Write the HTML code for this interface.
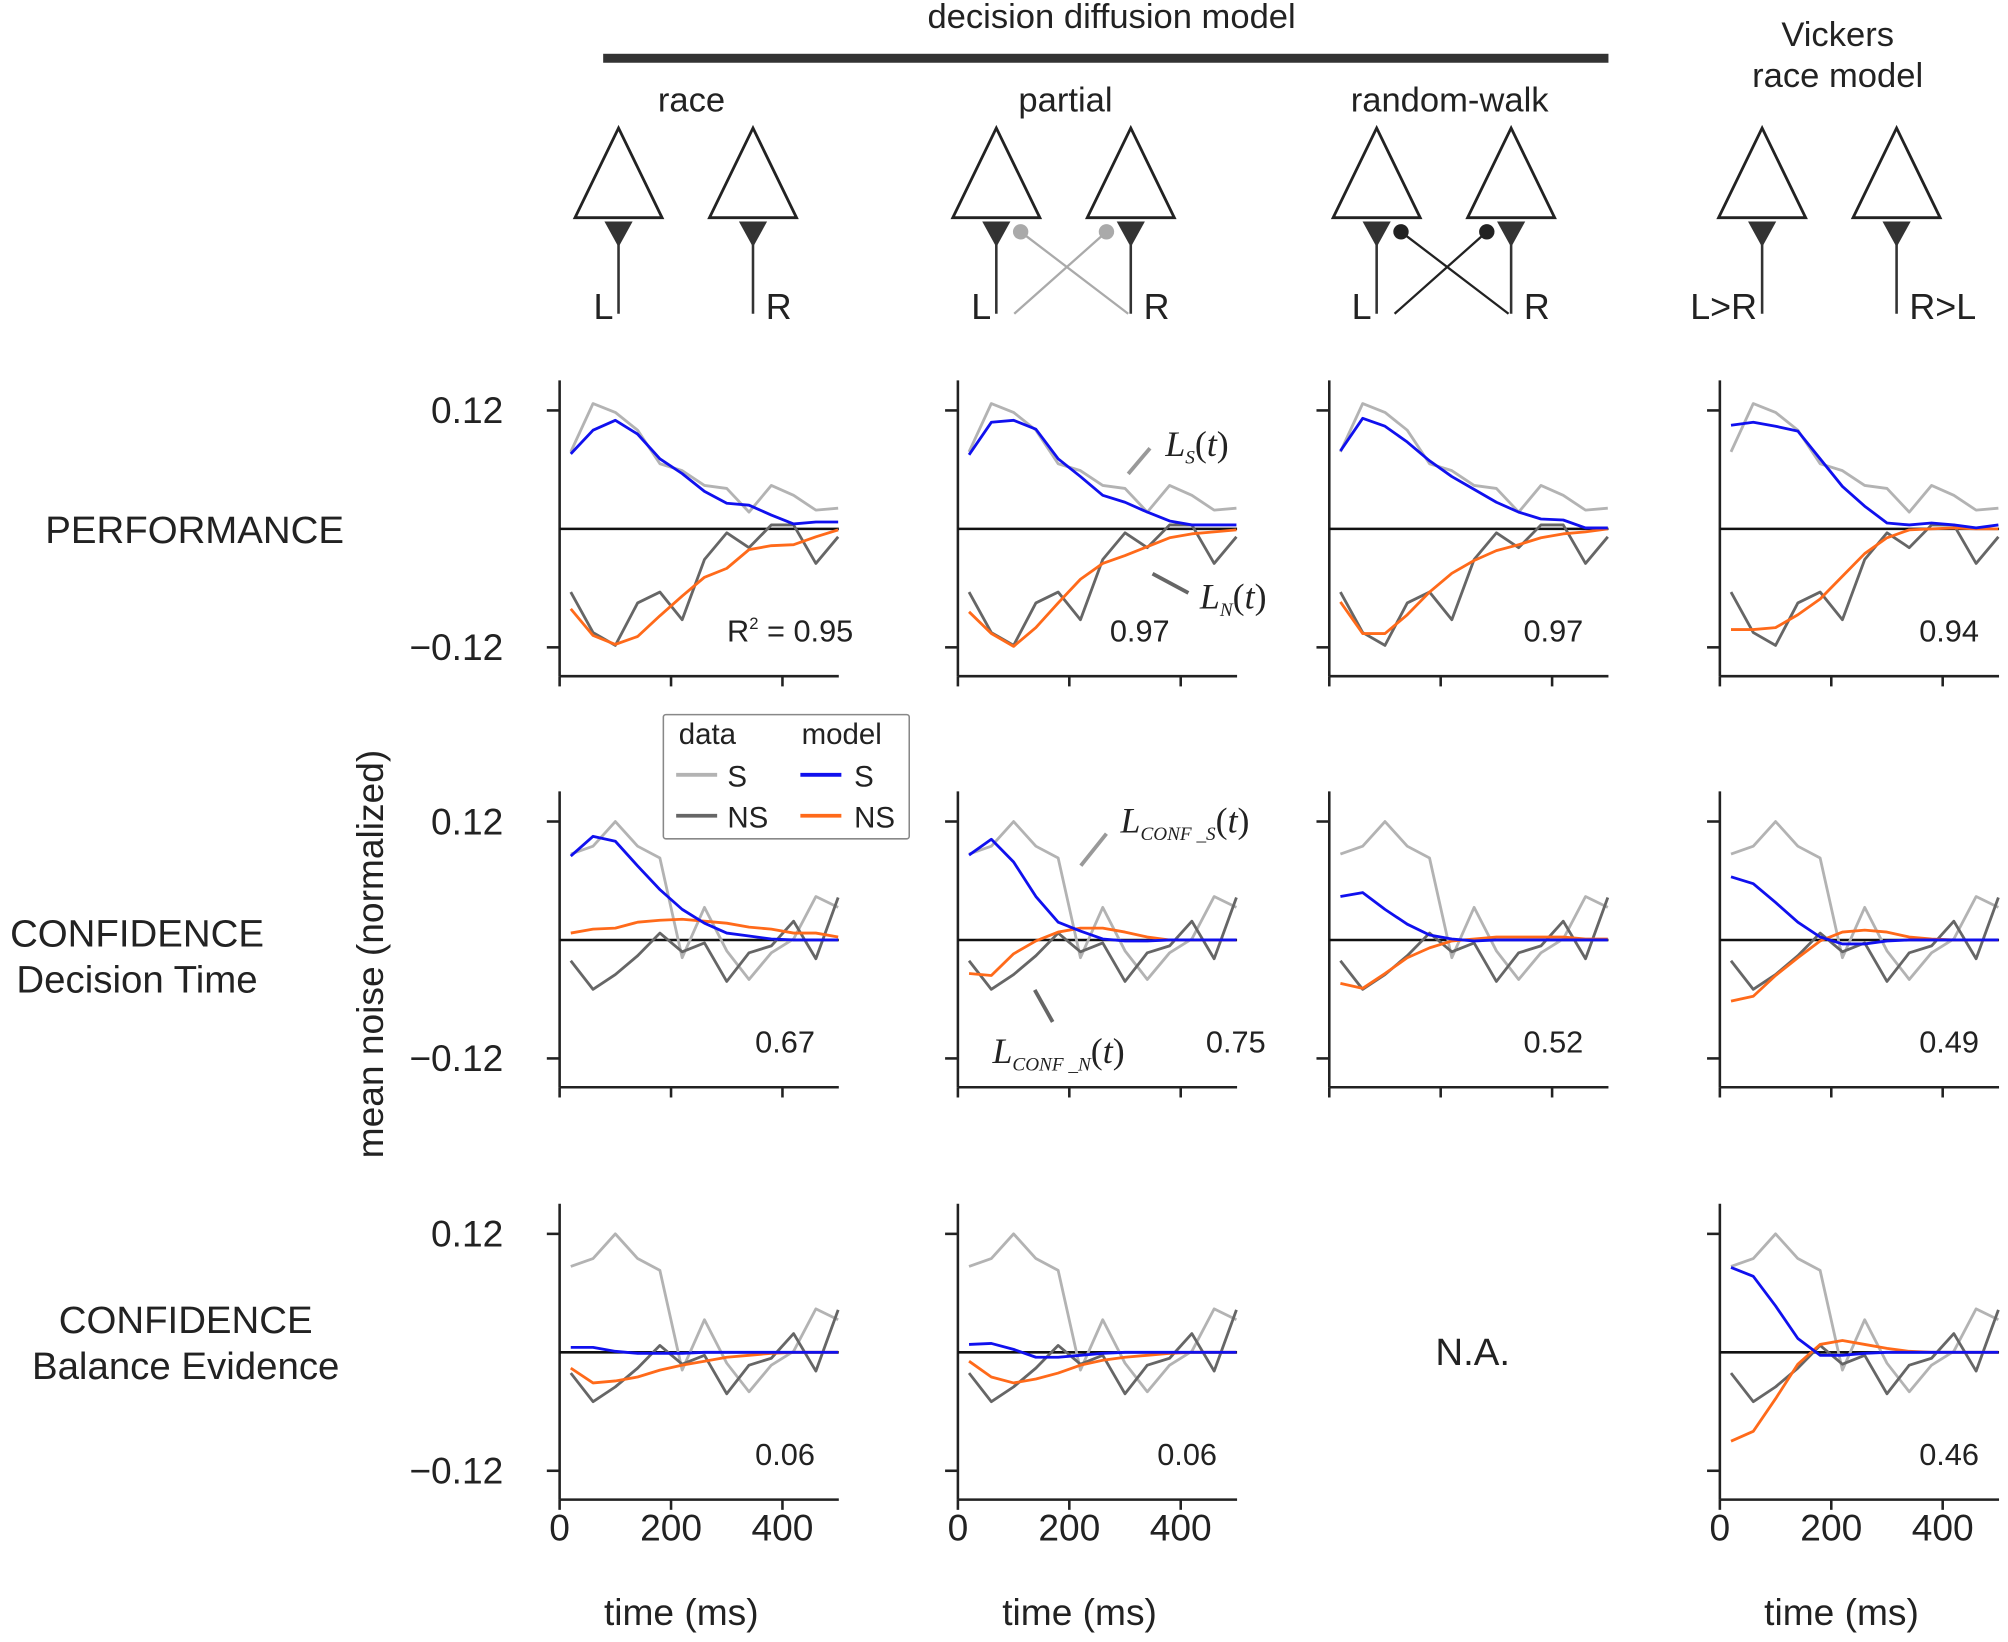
<!DOCTYPE html>
<html><head><meta charset="utf-8"><style>
html,body{margin:0;padding:0;background:#fff}
svg{display:block}
text{font-family:"Liberation Sans",sans-serif;fill:#222}
</style></head><body>
<svg id="fig" width="2008" height="1642" viewBox="0 0 1568 1282.2" preserveAspectRatio="none" xmlns="http://www.w3.org/2000/svg">
<g>
<text x="868" y="22" font-size="27" text-anchor="middle" fill="#333">decision diffusion model</text>
<rect x="471" y="42" width="785" height="7" fill="#333"/>
<text x="540" y="87" font-size="27" text-anchor="middle" fill="#333">race</text>
<text x="832" y="87" font-size="27" text-anchor="middle" fill="#333">partial</text>
<text x="1132" y="87" font-size="27" text-anchor="middle" fill="#333">random-walk</text>
<text x="1435" y="36" font-size="27" text-anchor="middle" fill="#333">Vickers</text>
<text x="1435" y="68" font-size="27" text-anchor="middle" fill="#333">race model</text>
</g>
<g id="diagrams"></g>
<g>
<text x="152" y="424" font-size="30" text-anchor="middle" fill="#333">PERFORMANCE</text>
<text x="107" y="739" font-size="30" text-anchor="middle" fill="#333">CONFIDENCE</text>
<text x="107" y="775" font-size="30" text-anchor="middle" fill="#333">Decision Time</text>
<text x="145" y="1041" font-size="30" text-anchor="middle" fill="#333">CONFIDENCE</text>
<text x="145" y="1077" font-size="30" text-anchor="middle" fill="#333">Balance Evidence</text>
<text transform="translate(299,745) rotate(-90)" font-size="29" text-anchor="middle">mean noise (normalized)</text>
<text x="1150" y="1066" font-size="30" text-anchor="middle">N.A.</text>
</g>
<g id="panels"></g>
<g>
<rect x="518" y="558" width="192" height="97" fill="#fff" stroke="#888" stroke-width="1.2" rx="2"/>
<text x="530" y="581" font-size="23">data</text>
<text x="626" y="581" font-size="23">model</text>
<line x1="528" y1="605" x2="560" y2="605" stroke="#b3b3b3" stroke-width="3"/>
<text x="568" y="614" font-size="23">S</text>
<line x1="528" y1="637" x2="560" y2="637" stroke="#666" stroke-width="3"/>
<text x="568" y="646" font-size="23">NS</text>
<line x1="625" y1="605" x2="657" y2="605" stroke="#1010ee" stroke-width="3"/>
<text x="667" y="614" font-size="23">S</text>
<line x1="625" y1="637" x2="657" y2="637" stroke="#ff6a1a" stroke-width="3"/>
<text x="667" y="646" font-size="23">NS</text>
</g>
<g>
<line x1="881" y1="370" x2="898" y2="350" stroke="#999" stroke-width="3"/>
<text x="910" y="356" font-size="28" font-family="Liberation Serif"><tspan font-style="italic" font-family="Liberation Serif">L</tspan><tspan font-size="15" dy="6" font-style="italic" font-family="Liberation Serif">S</tspan><tspan dy="-6" font-family="Liberation Serif">(</tspan><tspan font-style="italic" font-family="Liberation Serif">t</tspan><tspan font-family="Liberation Serif">)</tspan></text>
<line x1="900" y1="448" x2="928" y2="463" stroke="#666" stroke-width="3"/>
<text x="937" y="475" font-size="28" font-family="Liberation Serif"><tspan font-style="italic" font-family="Liberation Serif">L</tspan><tspan font-size="15" dy="6" font-style="italic" font-family="Liberation Serif">N</tspan><tspan dy="-6" font-family="Liberation Serif">(</tspan><tspan font-style="italic" font-family="Liberation Serif">t</tspan><tspan font-family="Liberation Serif">)</tspan></text>
<line x1="844" y1="676" x2="864" y2="651" stroke="#999" stroke-width="3"/>
<text x="875" y="650" font-size="28" font-family="Liberation Serif"><tspan font-style="italic" font-family="Liberation Serif">L</tspan><tspan font-size="15" dy="6" font-style="italic" font-family="Liberation Serif">CONF _S</tspan><tspan dy="-6" font-family="Liberation Serif">(</tspan><tspan font-style="italic" font-family="Liberation Serif">t</tspan><tspan font-family="Liberation Serif">)</tspan></text>
<line x1="808" y1="773" x2="822" y2="798" stroke="#666" stroke-width="3"/>
<text x="775" y="830" font-size="28" font-family="Liberation Serif"><tspan font-style="italic" font-family="Liberation Serif">L</tspan><tspan font-size="15" dy="6" font-style="italic" font-family="Liberation Serif">CONF _N</tspan><tspan dy="-6" font-family="Liberation Serif">(</tspan><tspan font-style="italic" font-family="Liberation Serif">t</tspan><tspan font-family="Liberation Serif">)</tspan></text>
</g>
</svg>
<script>
const times=[20,60,100,140,180,220,260,300,340,380,420,460,500];
const xTicks=[0,200,400];
const yTicks=[0.12,-0.12];
const perfDataS=[0.078,0.127,0.118,0.100,0.066,0.059,0.044,0.041,0.017,0.044,0.034,0.019,0.021];
const perfDataNS=[-0.064,-0.105,-0.118,-0.075,-0.064,-0.092,-0.031,-0.004,-0.019,0.004,0.004,-0.035,-0.008];
const confDataS=[0.087,0.095,0.120,0.095,0.083,-0.018,0.033,-0.011,-0.040,-0.013,0.001,0.044,0.033];
const confDataNS=[-0.021,-0.050,-0.035,-0.016,0.007,-0.012,-0.003,-0.042,-0.013,-0.006,0.019,-0.019,0.043];
const perfRaceS=[0.076,0.100,0.110,0.096,0.071,0.056,0.038,0.026,0.024,0.014,0.005,0.007,0.007];
const perfRaceNS=[-0.081,-0.108,-0.117,-0.109,-0.088,-0.068,-0.049,-0.040,-0.021,-0.017,-0.016,-0.008,-0.001];
const perfPartialS=[0.075,0.108,0.110,0.101,0.071,0.053,0.034,0.027,0.017,0.008,0.004,0.004,0.004];
const perfPartialNS=[-0.084,-0.106,-0.119,-0.100,-0.075,-0.051,-0.035,-0.027,-0.018,-0.009,-0.005,-0.003,-0.001];
const perfRwS=[0.079,0.112,0.104,0.088,0.069,0.053,0.040,0.027,0.017,0.010,0.009,0.001,0.001];
const perfRwNS=[-0.074,-0.106,-0.106,-0.087,-0.064,-0.045,-0.032,-0.022,-0.016,-0.009,-0.005,-0.003,0];
const perfVickS=[0.105,0.108,0.104,0.099,0.071,0.043,0.023,0.006,0.004,0.006,0.004,0.001,0.004];
const perfVickNS=[-0.102,-0.102,-0.100,-0.087,-0.071,-0.048,-0.025,-0.009,-0.001,0,0.001,0,0];
const dtRaceS=[0.085,0.105,0.100,0.075,0.051,0.031,0.017,0.007,0.004,0.001,0,0,0];
const dtRaceNS=[0.007,0.011,0.012,0.018,0.020,0.021,0.019,0.017,0.013,0.011,0.007,0.007,0.003];
const dtPartialS=[0.086,0.102,0.079,0.044,0.018,0.009,0.001,-0.001,-0.001,0,0,0,0];
const dtPartialNS=[-0.034,-0.036,-0.014,-0.001,0.008,0.012,0.012,0.008,0.003,0,0,0,0];
const dtRwS=[0.044,0.048,0.031,0.016,0.005,0.001,-0.001,0,0,0,0,0,0];
const dtRwNS=[-0.044,-0.049,-0.034,-0.018,-0.008,-0.001,0.001,0.003,0.003,0.003,0.003,0.001,0.001];
const dtVickS=[0.064,0.057,0.038,0.018,0.003,-0.004,-0.004,-0.001,0,0,0,0,0];
const dtVickNS=[-0.062,-0.057,-0.036,-0.018,-0.001,0.008,0.010,0.008,0.003,0.001,0,0,0];
const beRaceS=[0.005,0.005,0.001,-0.001,-0.001,-0.001,0,0,0,0,0,0,0];
const beRaceNS=[-0.016,-0.031,-0.029,-0.025,-0.018,-0.013,-0.009,-0.005,-0.003,-0.001,0,0,0];
const bePartialS=[0.008,0.009,0.003,-0.005,-0.005,-0.003,-0.001,0,0,0,0,0,0];
const bePartialNS=[-0.009,-0.025,-0.031,-0.027,-0.021,-0.013,-0.008,-0.005,-0.003,-0.001,0,0,0];
const beVickS=[0.086,0.077,0.047,0.014,-0.003,-0.003,-0.001,0,0,0,0,0,0];
const beVickNS=[-0.090,-0.080,-0.047,-0.012,0.008,0.012,0.008,0.004,0.001,0,0,0,0];
const r2Labels=["R\u00b2 = 0.95","0.97","0.97","0.94","0.67","0.75","0.52","0.49","0.06","0.06","0.46"];

const NS="http://www.w3.org/2000/svg";
const colX=[437,748,1038,1343];
const rowZero=[413,734,1056];
const YS=92.5/0.12, XS=87/200;
const panels=document.getElementById('panels');
function mk(tag,attrs,parent){const e=document.createElementNS(NS,tag);for(const k in attrs)e.setAttribute(k,attrs[k]);parent.appendChild(e);return e;}
const spec=[
 [0,0,perfDataS,perfDataNS,perfRaceS,perfRaceNS],[0,1,perfDataS,perfDataNS,perfPartialS,perfPartialNS],
 [0,2,perfDataS,perfDataNS,perfRwS,perfRwNS],[0,3,perfDataS,perfDataNS,perfVickS,perfVickNS],
 [1,0,confDataS,confDataNS,dtRaceS,dtRaceNS],[1,1,confDataS,confDataNS,dtPartialS,dtPartialNS],
 [1,2,confDataS,confDataNS,dtRwS,dtRwNS],[1,3,confDataS,confDataNS,dtVickS,dtVickNS],
 [2,0,confDataS,confDataNS,beRaceS,beRaceNS],[2,1,confDataS,confDataNS,bePartialS,bePartialNS],
 [2,3,confDataS,confDataNS,beVickS,beVickNS]];
const labelOff=[175,142,175,179,176,217,175,179,176,179,179];
spec.forEach((s,i)=>{
 const [r,c,ds,dn,ms,mn]=s;const x0=colX[c],z=rowZero[r];
 const xf=t=>x0+t*XS, yf=v=>z-v*YS;
 const g=mk('g',{},panels);
 
 
 const top=z-116,bot=z+115;
 const ya=mk('line',{x1:x0,y1:top,x2:x0,y2:bot,stroke:'#222','stroke-width':2},g);
 
 
 const xa=mk('line',{x1:x0,y1:bot,x2:x0+218,y2:bot,stroke:'#222','stroke-width':2},g);
 
 
 yTicks.forEach(v=>{const t=mk('line',{x1:x0-10,y1:yf(v),x2:x0,y2:yf(v),stroke:'#222','stroke-width':2},g);
  
  
  if(c===0){const tl=mk('text',{x:x0-44,y:yf(v)+10,'font-size':29,'text-anchor':'end'},g);tl.textContent=(v<0?'\u22120.12':'0.12');
   
   }});
 xTicks.forEach(v=>{const t=mk('line',{x1:xf(v),y1:bot,x2:xf(v),y2:bot+8,stroke:'#222','stroke-width':2},g);
  
  
  if(r===2){const tl=mk('text',{x:xf(v),y:bot+32,'font-size':29,'text-anchor':'middle'},g);tl.textContent=v;
   
   }});
 if(r===2){const xt=mk('text',{x:x0+95,y:bot+98,'font-size':29,'text-anchor':'middle'},g);xt.textContent='time (ms)';
  
  }
 const zl=mk('line',{x1:x0,y1:z,x2:x0+218,y2:z,stroke:'#111','stroke-width':2},g);
 
 
 [[ds,'#b3b3b3','data-s-line'],[dn,'#666','data-ns-line'],[mn,'#ff6a1a','model-ns-line'],[ms,'#1010ee','model-s-line']].forEach(([arr,col,nm])=>{
  const p=mk('polyline',{points:arr.map((v,k)=>xf(times[k])+','+yf(v)).join(' '),fill:'none',stroke:col,'stroke-width':2.2,'stroke-linejoin':'round'},g);
  
  });
 const rt=mk('text',{x:x0+labelOff[i],y:z+88,'font-size':24,'text-anchor':'middle'},g);
 rt.textContent=r2Labels[i];
 if(i===0){rt.textContent='';const a=mk('tspan',{},rt);a.textContent='R';const b=mk('tspan',{'font-size':13,dy:-10},rt);b.textContent='2';const d=mk('tspan',{dy:10},rt);d.textContent=' = 0.95';rt.setAttribute('x',x0+180);}
 
 
});
const dg=document.getElementById('diagrams');
const diag=[[483,588,'none','L','R'],[778,883,'#aaa','L','R'],[1075,1180,'#222','L','R'],[1376,1481,'none','L>R','R>L']];
diag.forEach(([a,b,cross,la,lb],i)=>{
 const g=mk('g',{},dg);
 
 
 [a,b].forEach(cx=>{
  const t=mk('polygon',{points:(cx-34)+',170 '+cx+',100 '+(cx+34)+',170',fill:'#fff',stroke:'#222','stroke-width':2.2},g);
  
  
  const d=mk('polygon',{points:(cx-11)+',173 '+(cx+11)+',173 '+cx+',193',fill:'#333'},g);
  
  
  const l=mk('line',{x1:cx,y1:185,x2:cx,y2:245,stroke:'#333','stroke-width':2},g);
  
  
 });
 if(cross!=='none'){
  [[a+19,b-2],[b-19,a+14]].forEach(([sx,ex])=>{
   const l=mk('line',{x1:sx,y1:181,x2:ex,y2:245,stroke:cross,'stroke-width':1.8},g);
   
   
   const c=mk('circle',{cx:sx,cy:181,r:6,fill:cross},g);
   
   
  });
 }
 const t1=mk('text',{x:a-4,y:249,'font-size':28,'text-anchor':'end',fill:'#333'},g);t1.textContent=la;
 
 
 const t2=mk('text',{x:b+10,y:249,'font-size':28,fill:'#333'},g);t2.textContent=lb;
 
 
});
</script>
</body></html>
